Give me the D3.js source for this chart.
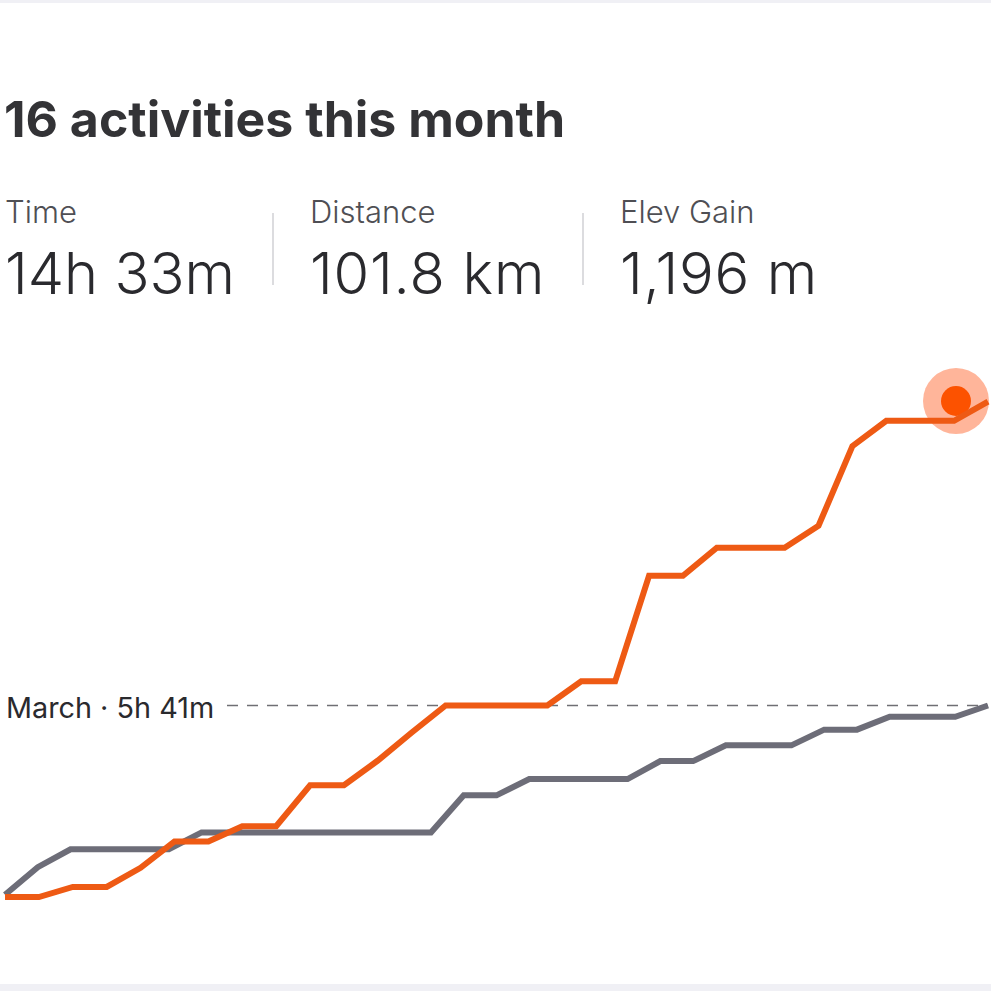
<!DOCTYPE html>
<html><head><meta charset="utf-8">
<style>html,body{margin:0;padding:0;background:#fff}svg{display:block}text{font-family:Inter,"Noto Sans",sans-serif}</style>
<script src="https://cdn.jsdelivr.net/npm/d3@7"></script></head>
<body><svg id="c" width="991" height="991"></svg>
<script>
const title = "16 activities this month";
const statLabels = ["Time","Distance","Elev Gain"];
const statValues = ["14h 33m","101.8 km","1,196 m"];
const refLabel = "March · 5h 41m";
const refMinutes = 341;
// cumulative minutes per day
const currentMonth = [0,0,18,18,52,99,99,126,126,199,199,243,293,341,341,341,341,384,384,572,572,622,622,622,661,803,848,848,848,882];
const previousMonth = [4,53,85,85,85,85,115,115,115,115,115,115,115,115,181,181,210,210,210,210,242,242,270,270,270,298,298,321,321,321,341];

const svg = d3.select("#c");
const xPrev = d3.scaleLinear().domain([0,previousMonth.length-1]).range([5,988]);
const xCur = d3.scaleLinear().domain([0,currentMonth.length-1]).range([5,988]);
const y = d3.scaleLinear().domain([0,refMinutes]).range([897,705.5]);

svg.append("rect").attr("width",991).attr("height",3).attr("fill","#f0f0f5");
svg.append("rect").attr("y",984).attr("width",991).attr("height",7).attr("fill","#f0f0f5");

svg.append("text").attr("x",4).attr("y",137).attr("font-size",50).attr("font-weight",700).attr("fill","#333336").text(title);

const statX = d3.scaleOrdinal().domain(statLabels).range([5,310,620]);
const statSpacing = d3.scaleOrdinal().domain(statValues).range([0,0.8,0.7]);
svg.selectAll(".sl").data(statLabels).join("text").attr("class","sl")
  .attr("x",d=>statX(d)).attr("y",223).attr("font-size",31).attr("font-weight",300).attr("fill","#4f4f54").text(d=>d);
svg.selectAll(".sv").data(statValues).join("text").attr("class","sv")
  .attr("x",(d,i)=>statX(statLabels[i])).attr("y",294).attr("font-size",57.8).attr("font-weight",300)
  .attr("letter-spacing",d=>statSpacing(d)).attr("fill","#2a2a2e").text(d=>d);
svg.selectAll(".sep").data(statLabels.slice(1)).join("line").attr("class","sep")
  .attr("x1",d=>statX(d)-37).attr("x2",d=>statX(d)-37).attr("y1",213).attr("y2",285)
  .attr("stroke","#dcdcdf").attr("stroke-width",2);

svg.append("text").attr("x",6).attr("y",718).attr("font-size",28.8).attr("fill","#2a2a2e").text(refLabel);
svg.append("line").attr("x1",227).attr("x2",988).attr("y1",y(refMinutes)).attr("y2",y(refMinutes))
  .attr("stroke","#6f6f74").attr("stroke-width",1.5).attr("stroke-dasharray","11 9");

const line = x => d3.line().x((d,i)=>x(i)).y(d=>y(d));
svg.append("path").datum(previousMonth).attr("d",line(xPrev)).attr("fill","none").attr("stroke","#6d6d78").attr("stroke-width",6);
svg.append("circle").attr("cx",956).attr("cy",401).attr("r",33).attr("fill","#ffb59a");
svg.append("circle").attr("cx",956).attr("cy",401).attr("r",15).attr("fill","#fc5200");
svg.append("path").datum(currentMonth).attr("d",line(xCur)).attr("fill","none").attr("stroke","#ee5a14").attr("stroke-width",6);
</script></body></html>
